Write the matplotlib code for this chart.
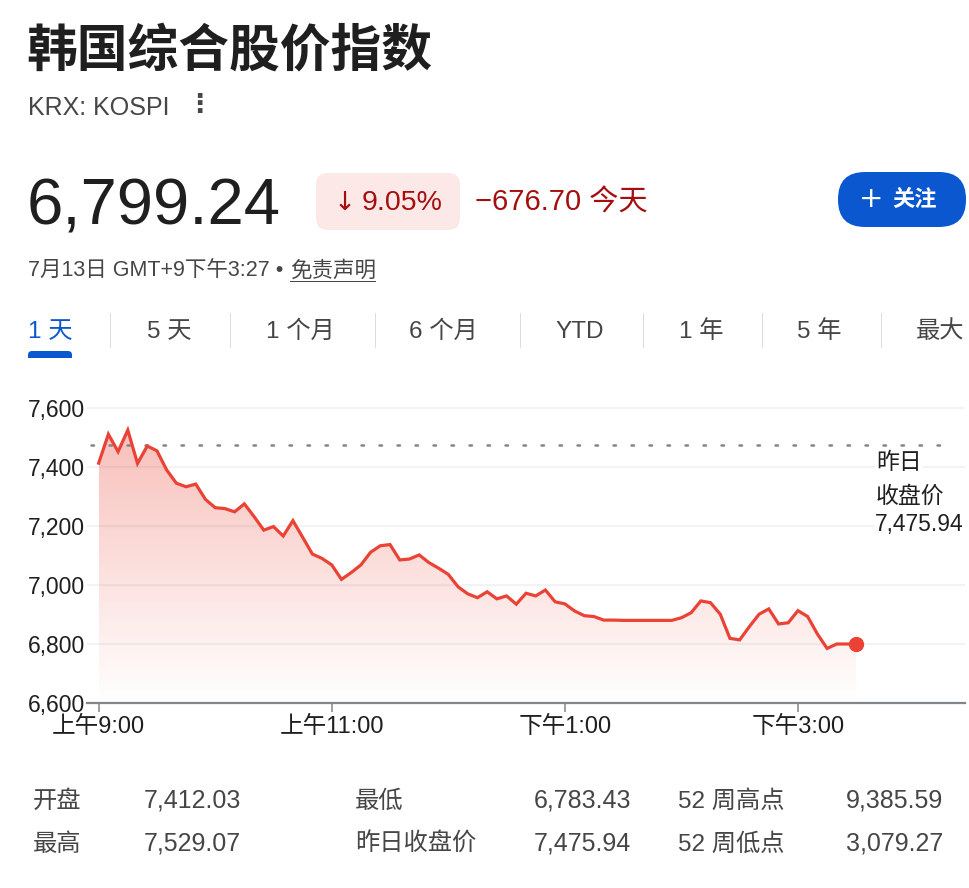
import matplotlib
matplotlib.use('Agg')
import matplotlib.pyplot as plt
import numpy as np
from matplotlib.patches import FancyBboxPatch, Rectangle
from matplotlib.transforms import IdentityTransform
from matplotlib.colors import LinearSegmentedColormap

plt.rcParams['font.family'] = ['Liberation Sans', 'Noto Sans CJK SC', 'DejaVu Sans']

# KOSPI intraday, 5-minute points from 9:00 to 15:30
minutes = np.arange(0, 391, 5)
prices = [7413, 7511, 7452, 7525, 7412, 7471, 7455, 7390, 7345, 7333,
          7342, 7290, 7262, 7259, 7248, 7275, 7232, 7186, 7198, 7166,
          7218, 7162, 7105, 7090, 7068, 7019, 7042, 7068, 7111, 7133,
          7137, 7085, 7088, 7102, 7076, 7057, 7036, 6994, 6970, 6957,
          6977, 6953, 6963, 6935, 6972, 6963, 6983, 6943, 6936, 6912,
          6896, 6893, 6881, 6881, 6880, 6880, 6880, 6880, 6880, 6880,
          6889, 6906, 6946, 6940, 6901, 6819, 6814, 6859, 6901, 6919,
          6868, 6872, 6913, 6893, 6834, 6785, 6800, 6800, 6799.24]
prev_close = 7475.94

y_ticks = [6600, 6800, 7000, 7200, 7400, 7600]
x_ticks = [0, 120, 240, 360]
x_labels = ['上午9:00', '上午11:00', '下午1:00', '下午3:00']

tabs = ['1 天', '5 天', '1 个月', '6 个月', 'YTD', '1 年', '5 年', '最大']
stat_labels = [['开盘', '最低', '52 周高点'], ['最高', '昨日收盘价', '52 周低点']]
stat_values = [['7,412.03', '6,783.43', '9,385.59'], ['7,529.07', '7,475.94', '3,079.27']]

W, H = 970, 888
RED = '#ea4335'
DARK_RED = '#a50e0e'
BLUE = '#0b57d0'
TXT = '#1f1f1f'
GREY = '#444746'

fig = plt.figure(figsize=(W / 100, H / 100), dpi=100)
px = IdentityTransform()


def t(x, y, s, **kw):
    # place text using screenshot pixel coords (origin top-left)
    return fig.text(x, H - y, s, transform=px, **kw)


def box(x0, y0, x1, y1, r, color):
    p = FancyBboxPatch((x0, H - y1), x1 - x0, y1 - y0,
                       boxstyle=f'round,pad=0,rounding_size={r}',
                       transform=px, facecolor=color, edgecolor='none')
    fig.add_artist(p)


# header
t(26, 51, '韩国综合股价指数', fontsize=36.5, color=TXT, va='center',
  family=['Noto Sans CJK SC'], fontweight='bold')
t(28, 108, 'KRX: KOSPI', fontsize=18, color=GREY, va='center')
t(199, 105, '⋮', fontsize=19, color=GREY, va='center', ha='center',
  family=['DejaVu Sans'], fontweight='bold')

t(27, 207, '6,799.24', fontsize=47, color=TXT, va='center')
box(316, 173, 460, 230, 12, '#fce8e6')
t(334, 203, '↓', fontsize=19, color=DARK_RED, va='center',
  family=['DejaVu Sans'])
t(362, 203, '9.05%', fontsize=20.5, color=DARK_RED, va='center')
t(475, 203, '−676.70 今天', fontsize=21, color=DARK_RED, va='center')

box(838, 172, 966, 227, 27, BLUE)
t(871, 199, '+', fontsize=21, color='white', va='center', ha='center',
  family=['DejaVu Sans'])
t(892, 200, '关注', fontsize=16, color='white', va='center', ha='left',
  fontweight='bold')

t(28, 271, '7月13日 GMT+9下午3:27 •', fontsize=15.5, color=GREY, va='center')
t(290, 271, '免责声明', fontsize=15.5, color=GREY, va='center')
fig.add_artist(Rectangle((290, H - 282), 86, 1.3, transform=px,
                         facecolor=GREY, edgecolor='none'))

# range tabs
tab_x = [28, 147, 266, 409, 555, 679, 797, 916]
sep_x = [110, 230, 375, 520, 643, 762, 881]
for i, (lab, x) in enumerate(zip(tabs, tab_x)):
    t(x, 332, lab, fontsize=17.5, color=BLUE if i == 0 else GREY, va='center')
for x in sep_x:
    fig.add_artist(Rectangle((x, H - 348), 1, 35, transform=px,
                             facecolor='#dadce0', edgecolor='none'))
box(28, 351, 72, 362, 4, BLUE)
fig.add_artist(Rectangle((26, H - 364), 50, 6, transform=px,
                         facecolor='white', edgecolor='none'))

# chart
ax = fig.add_axes([87 / W, 1 - 703 / H, 878 / W, 308 / H])
for s in ['top', 'right', 'left']:
    ax.spines[s].set_visible(False)
ax.spines['bottom'].set_color('#80868b')
ax.spines['bottom'].set_linewidth(1.6)

for v in y_ticks[1:]:
    ax.axhline(v, color='#f1f3f4', lw=1.5, zorder=0)

ax.set_yticks(y_ticks)
ax.set_yticklabels([f'{v:,}' for v in y_ticks])
ax.tick_params(axis='y', length=0, pad=1.5, labelsize=16.5, labelcolor=TXT)
ax.set_xticks(x_ticks)
ax.set_xticklabels(x_labels)
ax.tick_params(axis='x', length=6.5, width=1.1, color='#80868b', pad=3,
               labelsize=17, labelcolor=TXT)

# gradient fill under the line
fill = ax.fill_between(minutes, prices, 6600, facecolor='none', edgecolor='none')
cmap = LinearSegmentedColormap.from_list(
    'fade', [(0.918, 0.263, 0.208, 0.0), (0.918, 0.263, 0.208, 0.34)])
grad = np.linspace(0, 1, 256).reshape(-1, 1)
img = ax.imshow(grad, cmap=cmap, origin='lower', aspect='auto',
                extent=[minutes[0], minutes[-1], 6600, max(prices)], zorder=1)
img.set_clip_path(fill.get_paths()[0], transform=ax.transData)
ax.set_xlim(-6, 446)
ax.set_ylim(6600, 7644)

ax.axhline(prev_close, xmin=(91 - 87) / 878, xmax=(953 - 87) / 878,
           color='#80868b', lw=1.8, ls=(0, (1, 6.2)), dash_capstyle='round',
           zorder=2)
ax.plot(minutes, prices, color=RED, lw=2.3, zorder=3, solid_joinstyle='miter')
ax.plot(minutes[-1], prices[-1], 'o', color=RED, ms=10, zorder=4)

t(876, 462, '昨日', fontsize=16.5, color=TXT, va='center',
  bbox=dict(facecolor='white', edgecolor='none', pad=1))
t(876, 496, '收盘价', fontsize=16.5, color=TXT, va='center',
  bbox=dict(facecolor='white', edgecolor='none', pad=1))
t(875, 524, f'{prev_close:,.2f}', fontsize=16.5, color=TXT, va='center',
  bbox=dict(facecolor='white', edgecolor='none', pad=1))

# stats table
lab_x = [33, 355, 678]
val_x = [241, 631, 943]
for r, y in enumerate([807, 850]):
    for c in range(3):
        t(lab_x[c], y + 1, stat_labels[r][c], fontsize=17.5, color=GREY,
          va='baseline')
        t(val_x[c], y, stat_values[r][c], fontsize=18, color=GREY,
          va='baseline', ha='right')

fig.savefig('out.png', dpi=100, facecolor='white')
